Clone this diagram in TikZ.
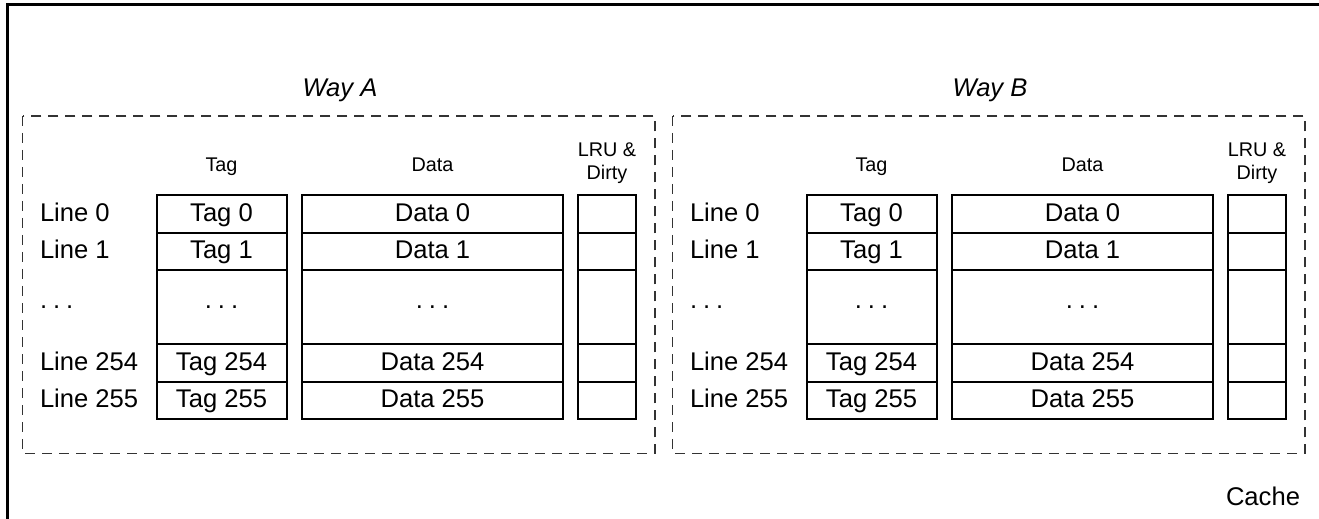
\documentclass[tikz,border=0pt]{standalone}
\usepackage{fontspec}
\setmainfont{Liberation Sans}

\begin{document}
\begin{tikzpicture}[
    x=0.5pt, y=-0.5pt,
    every node/.style={inner sep=0pt, outer sep=0pt, font=\fontsize{12.8pt}{15pt}\selectfont},
    title/.style={font=\fontsize{12.8pt}{15pt}\selectfont\itshape, anchor=base},
    head/.style={font=\fontsize{9.9pt}{11.7pt}\selectfont, align=center, anchor=base},
    rowname/.style={anchor=west, text height=9.5pt, text depth=1.9pt},
    cell/.style={
        draw,
        line width=1pt,
        minimum height=18.6pt,
        text height=9.5pt,
        text depth=1.9pt
    },
    tagcell/.style={cell, minimum width=65pt},
    datacell/.style={cell, minimum width=130.5pt},
    lrucell/.style={cell, minimum width=29pt},
    gapcell/.style={minimum height=37.2pt, text height={}, text depth={}},
    wayframe/.style={draw=black!80, line width=0.6pt, dash pattern=on 5pt off 3.5pt}
]
    \useasboundingbox (0,0) rectangle (1319,519);

    % Cache
    \draw[line width=1.5pt] (7.5,5) rectangle (1321,530);
    \node[anchor=base east] (cachelabel) at (1300,505) {Cache};

    % Ways
    \foreach \w/\dx in {A/0, B/650} {
        \draw[wayframe] ({22.7+\dx},116) rectangle ({655+\dx},453.5);
        \node[title] (title\w) at ({340+\dx},96.5) {Way \w};

        % column heads
        \node[head] (taghead\w) at ({221.5+\dx},171.7) {Tag};
        \node[head] (datahead\w) at ({432.5+\dx},171.7) {Data};
        \node[head, anchor=center] (lruhead\w) at ({607+\dx},163) {LRU \&\\Dirty};

        % line 0
        \node[rowname] (line0\w) at ({40+\dx},214.1) {Line 0};
        \node[tagcell] (tag0\w) at ({221.5+\dx},214.1) {Tag 0};
        \node[datacell] (data0\w) at ({432.5+\dx},214.1) {Data 0};
        \node[lrucell] (lru0\w) at ({607+\dx},214.1) {};

        % line 1
        \node[rowname] (line1\w) at ({40+\dx},251.3) {Line 1};
        \node[tagcell] (tag1\w) at ({221.5+\dx},251.3) {Tag 1};
        \node[datacell] (data1\w) at ({432.5+\dx},251.3) {Data 1};
        \node[lrucell] (lru1\w) at ({607+\dx},251.3) {};

        % lines in between
        \node[anchor=west] (linegap\w) at ({40+\dx},307.1) {.\kern3pt.\kern3pt.};
        \node[tagcell, gapcell] (taggap\w) at ({221.5+\dx},307.1) {.\kern3pt.\kern3pt.};
        \node[datacell, gapcell] (datagap\w) at ({432.5+\dx},307.1) {.\kern3pt.\kern3pt.};
        \node[lrucell, gapcell] (lrugap\w) at ({607+\dx},307.1) {};

        % line 254
        \node[rowname] (line254\w) at ({40+\dx},362.9) {Line 254};
        \node[tagcell] (tag254\w) at ({221.5+\dx},362.9) {Tag 254};
        \node[datacell] (data254\w) at ({432.5+\dx},362.9) {Data 254};
        \node[lrucell] (lru254\w) at ({607+\dx},362.9) {};

        % line 255
        \node[rowname] (line255\w) at ({40+\dx},400.1) {Line 255};
        \node[tagcell] (tag255\w) at ({221.5+\dx},400.1) {Tag 255};
        \node[datacell] (data255\w) at ({432.5+\dx},400.1) {Data 255};
        \node[lrucell] (lru255\w) at ({607+\dx},400.1) {};
    }

\end{tikzpicture}
\end{document}
